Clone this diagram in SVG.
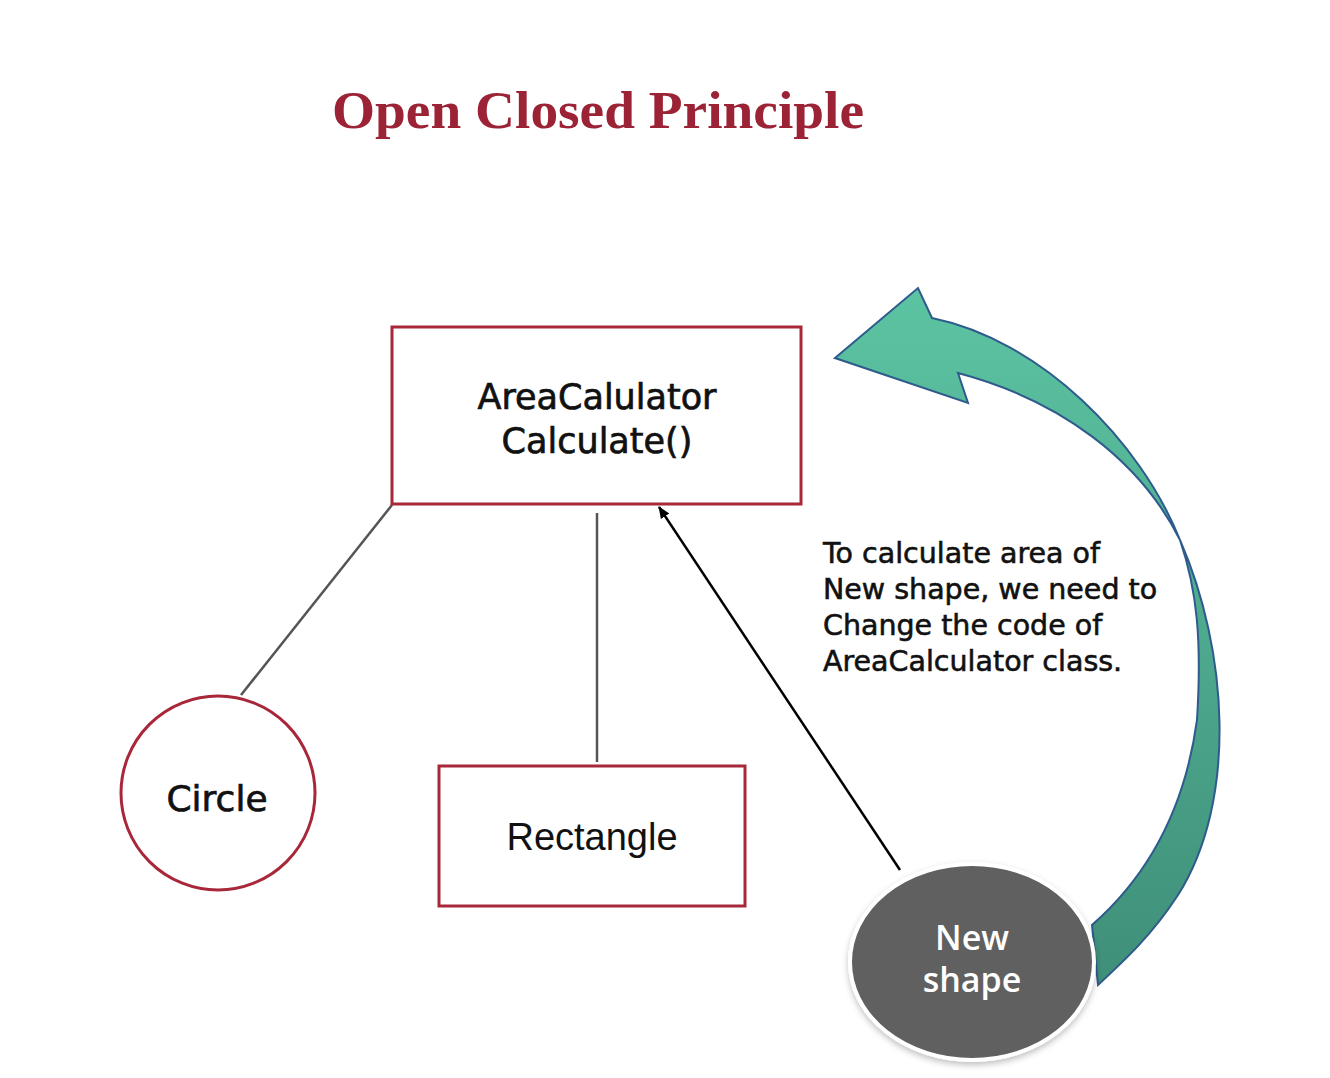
<svg xmlns="http://www.w3.org/2000/svg" width="1330" height="1078" viewBox="0 0 1330 1078">
<defs>
<linearGradient id="grn" x1="0" y1="0" x2="0" y2="1">
<stop offset="0" stop-color="#5cc4a2"/>
<stop offset="1" stop-color="#3f8f79"/>
</linearGradient>
<marker id="ah" markerWidth="12" markerHeight="12" refX="11" refY="6" orient="auto" markerUnits="userSpaceOnUse">
<path d="M0,1 L12,6 L0,11 Z" fill="#000"/>
</marker>
<filter id="sh" x="-20%" y="-20%" width="140%" height="140%">
<feDropShadow dx="0" dy="3" stdDeviation="3" flood-color="#000" flood-opacity="0.25"/>
</filter>
</defs>
<style>
.box{fill:#fff;stroke:#a8283a;stroke-width:3}
.lbl{font-family:"DejaVu Sans",sans-serif;fill:#111;stroke:#111;stroke-width:0.7;text-anchor:middle}
.conn{stroke:#555;stroke-width:2.5;fill:none}
.note{font-family:"DejaVu Sans",sans-serif;font-size:28.5px;fill:#111;stroke:#111;stroke-width:0.6}
.ns{font-family:"Open Sans",sans-serif;font-weight:600;font-size:34px;fill:#fff;text-anchor:middle}
</style>
<rect width="1330" height="1078" fill="#fff"/>
<text x="332" y="128" textLength="532" lengthAdjust="spacingAndGlyphs" font-family="'Liberation Serif',serif" font-weight="bold" font-size="53" fill="#9b2335">Open Closed Principle</text>

<g id="connectors">
<line class="conn" x1="392" y1="505" x2="241" y2="695"/>
<line class="conn" x1="597" y1="513" x2="597" y2="762"/>
<line x1="900" y1="870" x2="659" y2="507" stroke="#000" stroke-width="2.5" marker-end="url(#ah)"/>
<path id="curved-arrow" d="M835,358 L918,288 L932,318 C1040,340 1140,440 1180,540 C1228,650 1238,800 1178,895 C1152,935 1125,960 1098,985 L1092,925 C1132,890 1182,830 1197,720 C1202,640 1197,590 1180,540 C1140,460 1060,400 958,373 L968,403 Z" fill="url(#grn)" stroke="#2f5b8c" stroke-width="2" stroke-linejoin="miter"/>
</g>

<g id="area-calculator">
<rect class="box" x="392" y="327" width="409" height="177"/>
<text class="lbl" x="597" y="409" font-size="35">AreaCalulator</text>
<text class="lbl" x="597" y="453" font-size="35">Calculate()</text>
</g>

<g id="circle">
<ellipse cx="218" cy="793" rx="97" ry="97" fill="#fff" stroke="#a8283a" stroke-width="3"/>
<text class="lbl" x="217" y="811" font-size="36">Circle</text>
</g>

<g id="rectangle">
<rect class="box" x="439" y="766" width="306" height="140"/>
<text x="592" y="850" text-anchor="middle" font-family="'Liberation Sans',sans-serif" font-size="38" fill="#111">Rectangle</text>
</g>

<g id="note">
<text class="note" x="823" y="563">To calculate area of</text>
<text class="note" x="823" y="599">New shape, we need to</text>
<text class="note" x="823" y="635">Change the code of</text>
<text class="note" x="823" y="671">AreaCalculator class.</text>
</g>

<g id="new-shape">
<ellipse cx="972" cy="962" rx="122" ry="98" fill="#606060" stroke="#fff" stroke-width="4" filter="url(#sh)"/>
<text class="ns" x="972" y="950">New</text>
<text class="ns" x="972" y="992">shape</text>
</g>
</svg>
